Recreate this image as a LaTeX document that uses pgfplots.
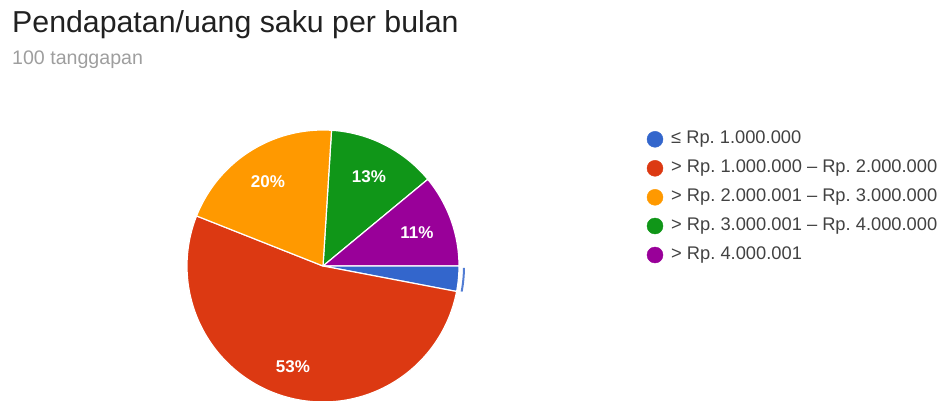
\documentclass[border=0pt]{standalone}
\usepackage{pgfplots}
\pgfplotsset{compat=1.18}
\usepackage{fontspec}
\setmainfont{Liberation Sans}
\frenchspacing
\definecolor{cblue}{HTML}{3366CC}
\definecolor{cred}{HTML}{DC3912}
\definecolor{corange}{HTML}{FF9900}
\definecolor{cgreen}{HTML}{109618}
\definecolor{cpurple}{HTML}{990099}
\definecolor{ctitle}{HTML}{212121}
\definecolor{csub}{HTML}{9E9E9E}
\definecolor{clegend}{HTML}{424242}
% Shares in percent (100 responses):
% blue <= 1.000.000 : 3 ; red : 53 ; orange : 20 ; green : 13 ; purple : 11
% Slices clockwise from 12 o'clock, start offset 1 % : green, purple, blue, red, orange
\begin{document}
\begin{tikzpicture}
\begin{axis}[
  width=942pt, height=400pt, scale only axis,
  xmin=0, xmax=942, ymin=0, ymax=400,
  hide axis, clip=true,
]
% t = cumulative percent, clockwise from the top
\addplot[fill=cgreen, draw=white, line width=1.2pt, domain=1:14, samples=40, variable=\t]
  ({323+136*cos(90-3.6*\t)}, {134+136*sin(90-3.6*\t)}) -- (axis cs:323,134) -- cycle;
\addplot[fill=cpurple, draw=white, line width=1.2pt, domain=14:25, samples=40, variable=\t]
  ({323+136*cos(90-3.6*\t)}, {134+136*sin(90-3.6*\t)}) -- (axis cs:323,134) -- cycle;
\addplot[fill=cblue, draw=white, line width=1.2pt, domain=25:28, samples=15, variable=\t]
  ({323+136*cos(90-3.6*\t)}, {134+136*sin(90-3.6*\t)}) -- (axis cs:323,134) -- cycle;
\addplot[fill=cred, draw=white, line width=1.2pt, domain=28:81, samples=120, variable=\t]
  ({323+136*cos(90-3.6*\t)}, {134+136*sin(90-3.6*\t)}) -- (axis cs:323,134) -- cycle;
\addplot[fill=corange, draw=white, line width=1.2pt, domain=81:101, samples=50, variable=\t]
  ({323+136*cos(90-3.6*\t)}, {134+136*sin(90-3.6*\t)}) -- (axis cs:323,134) -- cycle;
% highlight arc of the blue slice
\addplot[draw=cblue!85, line width=2pt, domain=25.2:27.9, samples=10, variable=\t]
  ({323+141*cos(90-3.6*\t)}, {134+141*sin(90-3.6*\t)});
% slice labels
\node[text=white, font=\bfseries\fontsize{17}{20}\selectfont] at (axis cs:268,218) {20\%};
\node[text=white, font=\bfseries\fontsize{17}{20}\selectfont] at (axis cs:369,223) {13\%};
\node[text=white, font=\bfseries\fontsize{17}{20}\selectfont] at (axis cs:417,167) {11\%};
\node[text=white, font=\bfseries\fontsize{17}{20}\selectfont] at (axis cs:293,33) {53\%};
% legend markers
\addplot[only marks, mark=*, mark size=8pt, cblue] coordinates {(655,260.7)};
\addplot[only marks, mark=*, mark size=8pt, cred] coordinates {(655,231.7)};
\addplot[only marks, mark=*, mark size=8pt, corange] coordinates {(655,202.7)};
\addplot[only marks, mark=*, mark size=8pt, cgreen] coordinates {(655,174)};
\addplot[only marks, mark=*, mark size=8pt, cpurple] coordinates {(655,145)};
\begin{scope}[every node/.style={anchor=west, inner sep=0pt, text=clegend, font=\fontsize{18.3}{20}\selectfont}]
\node at (axis cs:671,260.7) {≤ Rp. 1.000.000};
\node at (axis cs:671,231.7) {> Rp. 1.000.000 – Rp. 2.000.000};
\node at (axis cs:671,202.7) {> Rp. 2.000.001 – Rp. 3.000.000};
\node at (axis cs:671,174) {> Rp. 3.000.001 – Rp. 4.000.000};
\node at (axis cs:671,145) {> Rp. 4.000.001};
\end{scope}
% titles
\node[anchor=base west, inner sep=0pt, text=ctitle, font=\fontsize{30.3}{34}\selectfont] at (axis cs:12,367) {Pendapatan/uang saku per bulan};
\node[anchor=base west, inner sep=0pt, text=csub, font=\fontsize{19.6}{22}\selectfont] at (axis cs:12,335) {100 tanggapan};
\end{axis}
\pgfresetboundingbox
\path (current axis.south west) rectangle (current axis.north east);
\end{tikzpicture}
\end{document}
